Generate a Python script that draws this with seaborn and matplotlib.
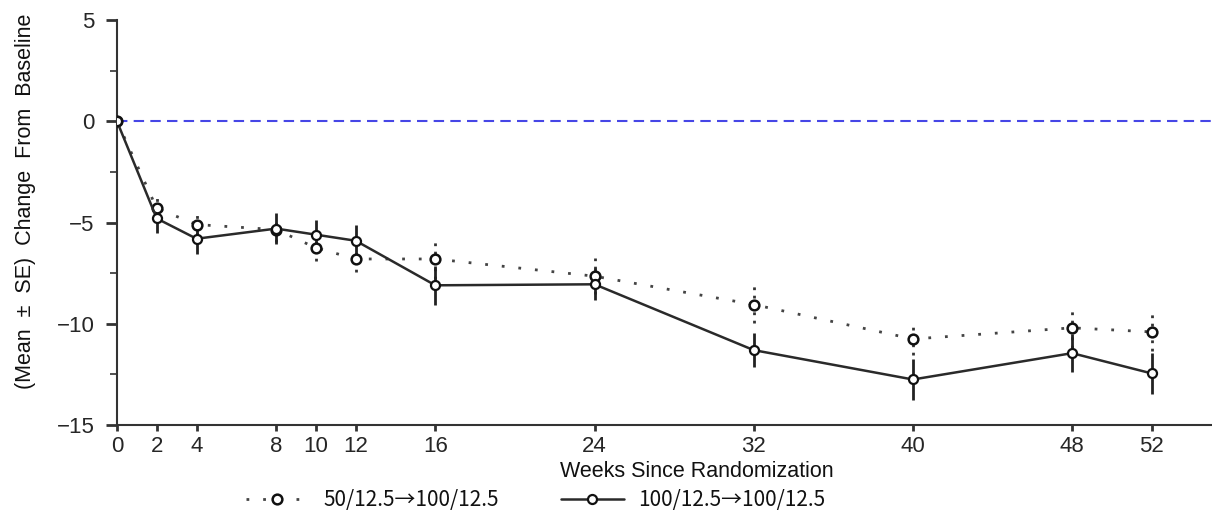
import matplotlib
matplotlib.use('Agg')
import matplotlib.pyplot as plt
from matplotlib.lines import Line2D
from matplotlib.ticker import MultipleLocator
import seaborn as sns

# data
weeks = [0, 2, 4, 8, 10, 12, 16, 24, 32, 40, 48, 52]
mean_50 = [0, -4.3, -5.1, -5.35, -6.25, -6.8, -6.8, -7.65, -9.05, -10.75, -10.2, -10.4]
se_50 = [0, 0.5, 0.5, 0.6, 0.65, 0.65, 1.0, 0.9, 0.9, 0.8, 1.0, 0.95]
mean_100 = [0, -4.8, -5.8, -5.3, -5.6, -5.9, -8.1, -8.05, -11.3, -12.75, -11.45, -12.45]
se_100 = [0, 0.7, 0.75, 0.75, 0.7, 0.8, 0.95, 0.8, 0.85, 1.0, 0.95, 1.0]
labels = ['50/12.5→100/12.5', '100/12.5→100/12.5']

sns.set_style('ticks')
plt.rcParams['font.family'] = ['Liberation Sans', 'DejaVu Sans']
plt.rcParams['text.color'] = '#111111'
plt.rcParams['axes.labelcolor'] = '#111111'

fig, ax = plt.subplots(figsize=(12.12, 5.19), dpi=100)
fig.subplots_adjust(left=0.0965, right=0.9995, top=0.9615, bottom=0.181)

ax.axhline(0, color='#4646e6', ls=(0, (5, 3)), lw=1.5, zorder=1)

dot_kw = dict(color='#444444', lw=2, linestyle=(0, (1, 5)), marker='o', markersize=7,
              markerfacecolor='white', markeredgecolor='#111111', markeredgewidth=1.8)
solid_kw = dict(color='#2a2a2a', lw=1.8, linestyle='-', marker='o', markersize=6.5,
                markerfacecolor='white', markeredgecolor='#111111', markeredgewidth=1.6)

# error bars
lo50 = [m - s for m, s in zip(mean_50, se_50)]
hi50 = [m + s for m, s in zip(mean_50, se_50)]
lo100 = [m - s for m, s in zip(mean_100, se_100)]
hi100 = [m + s for m, s in zip(mean_100, se_100)]
ax.vlines(weeks, lo50, hi50, colors='#333333', linestyles=(0, (1, 2)), lw=2, zorder=2)
ax.vlines(weeks, lo100, hi100, colors='#222222', linestyles='-', lw=2, zorder=2)

sns.lineplot(x=weeks, y=mean_50, ax=ax, zorder=3, **dot_kw)
sns.lineplot(x=weeks, y=mean_100, ax=ax, zorder=4, **solid_kw)

ax.set_xlim(0, 55)
ax.set_ylim(-15, 5)
ax.set_xticks(weeks)
ax.set_yticks([-15, -10, -5, 0, 5])
ax.yaxis.set_minor_locator(MultipleLocator(2.5))

sns.despine(ax=ax)
for sp in ['left', 'bottom']:
    ax.spines[sp].set_linewidth(1.5)
    ax.spines[sp].set_color('#333333')

ax.tick_params(axis='x', length=4, width=2, pad=4, labelsize=16, color='#333333')
ax.tick_params(axis='y', which='major', length=8, width=2, pad=8, labelsize=16, color='#333333')
ax.tick_params(axis='y', which='minor', length=5, width=1.2, color='#333333')

ax.set_xlabel('Weeks Since Randomization', fontsize=15.5)
ax.xaxis.set_label_coords(0.53, -0.088)
ax.set_ylabel('(Mean  ±  SE)  Change  From  Baseline', fontsize=15.5)
ax.yaxis.set_label_coords(-0.074, 0.553)

handles = [Line2D([], [], **dot_kw), Line2D([], [], **solid_kw)]
fig.legend(handles, labels, loc='center', bbox_to_anchor=(0.442, 0.036), ncol=2,
           frameon=False, prop={'family': ['Noto Sans CJK JP', 'DejaVu Sans'], 'size': 15},
           handlelength=3, handletextpad=0.7, columnspacing=3.0)

fig.savefig('out.png', dpi=100)
